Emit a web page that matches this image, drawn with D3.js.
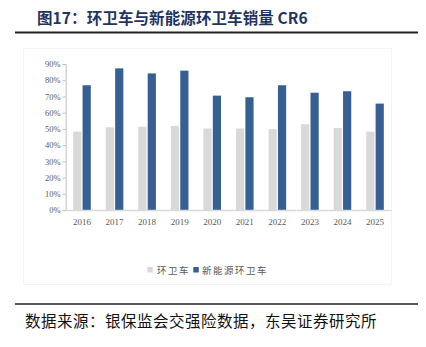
<!DOCTYPE html>
<html><head><meta charset="utf-8">
<script src="https://cdn.jsdelivr.net/npm/d3@7"></script>
<style>body{margin:0;background:#fff;}svg{display:block;}</style>
</head><body>
<svg id="c" width="426" height="347"></svg>
<script>
const years = ["2016","2017","2018","2019","2020","2021","2022","2023","2024","2025"];
const seriesNames = ["环卫车","新能源环卫车"];
const sanitation = [48.4, 51.0, 51.4, 51.8, 50.2, 50.2, 49.8, 52.9, 50.6, 48.3];
const newEnergy = [76.9, 87.3, 84.2, 85.9, 70.5, 69.5, 76.9, 72.3, 73.2, 65.6];
const yTicks = [0,10,20,30,40,50,60,70,80,90];
const colors = ["#d9d9d9","#365f92"];
const titleText = "图17：环卫车与新能源环卫车销量 CR6";
const sourceText = "数据来源：银保监会交强险数据，东吴证券研究所";

const svg = d3.select("#c");
const x = d3.scaleBand().domain(years).range([65.7, 391.3]).paddingInner(0).paddingOuter(0);
const y = d3.scaleLinear().domain([0,90]).range([210,64]);
const barW = 8.2, gap = 1.2;

// chart frame (faint)
svg.append("rect").attr("x",23.5).attr("y",48.5).attr("width",368).attr("height",236)
  .attr("fill","none").attr("stroke","#f3f3f3").attr("stroke-width",1);

// title
svg.append("text").attr("x",37).attr("y",24).text(titleText)
  .attr("font-family","'Noto Sans CJK SC'").attr("font-weight","bold").attr("font-size",15.5)
  .attr("fill","#1f3461").attr("letter-spacing",0.1);
svg.append("line").attr("x1",15).attr("x2",418).attr("y1",32.5).attr("y2",32.5)
  .attr("stroke","#222").attr("stroke-width",2);

// bars
const data = [sanitation, newEnergy];
data.forEach((vals, si) => {
  svg.append("g").selectAll("rect").data(vals).join("rect")
    .attr("x",(d,i)=> x(years[i]) + x.bandwidth()/2 - barW - gap/2 + si*(barW+gap))
    .attr("y",d=>y(d)).attr("width",barW).attr("height",d=>y(0)-y(d))
    .attr("fill",colors[si]);
});

// y axis
const yAxis = d3.axisLeft(y).tickValues(yTicks).tickFormat(d=>d+"%").tickSize(3).tickPadding(2);
const ga = svg.append("g").attr("transform","translate(65.7,0)").call(yAxis);
ga.select(".domain").attr("stroke","#bfbfbf");
ga.selectAll(".tick line").attr("stroke","#bfbfbf");
ga.selectAll("text").attr("font-family","'Liberation Serif'").attr("font-size",8.5).attr("fill","#595959");

// x axis
const xAxis = d3.axisBottom(x).tickSize(0).tickPadding(9);
const gx = svg.append("g").attr("transform","translate(0,210)").call(xAxis);
gx.select(".domain").attr("stroke","#d9d9d9").attr("stroke-width",1.5);
gx.selectAll("text").attr("font-family","'Liberation Serif'").attr("font-size",9).attr("fill","#595959");

// legend
const leg = svg.append("g");
const legItems = [{x:147.3, tx:157},{x:193.3, tx:202}];
seriesNames.forEach((n,i)=>{
  leg.append("rect").attr("x",legItems[i].x).attr("y",267).attr("width",5.5).attr("height",5.5).attr("fill",colors[i]);
  leg.append("text").attr("x",legItems[i].tx).attr("y",273.5).text(n)
    .attr("font-family","'Noto Sans CJK SC'").attr("font-size",9.5).attr("fill","#595959")
    .attr("letter-spacing",1.5);
});

// source
svg.append("line").attr("x1",15).attr("x2",418).attr("y1",304).attr("y2",304)
  .attr("stroke","#222").attr("stroke-width",1.5);
svg.append("text").attr("x",25).attr("y",327).text(sourceText)
  .attr("font-family","'Noto Sans CJK SC'").attr("font-size",15.5).attr("fill","#111")
  .attr("letter-spacing",0.5);
</script>
</body></html>
